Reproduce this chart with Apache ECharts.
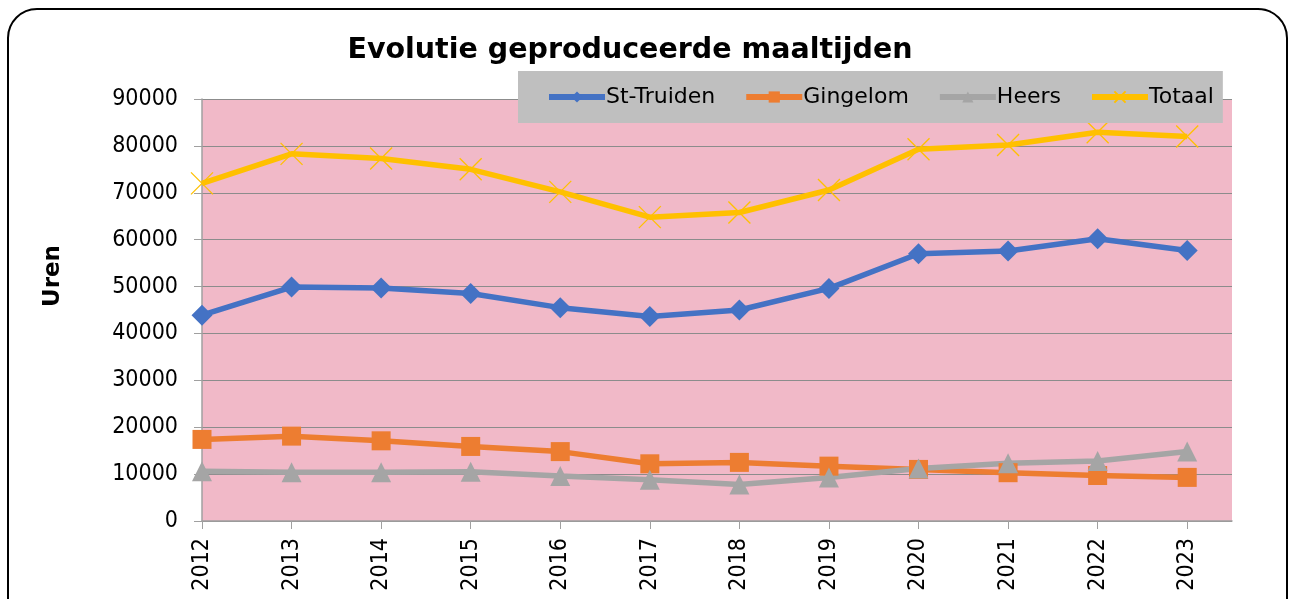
<!DOCTYPE html>
<html>
<head>
<meta charset="utf-8">
<script src="https://cdn.jsdelivr.net/npm/echarts@6/dist/echarts.min.js"></script>
<style>
  html, body { margin: 0; padding: 0; background: #fff; overflow: hidden; }
  .frame {
    position: absolute; left: 7px; top: 8px; width: 1281px; height: 630px;
    border: 2px solid #000; border-radius: 30px; box-sizing: border-box;
  }
  #chart { position: absolute; left: 0; top: 0; width: 1298px; height: 599px; }
</style>
</head>
<body>
<div class="frame"></div>
<div id="chart"></div>
<script>
// data
const years = [2012, 2013, 2014, 2015, 2016, 2017, 2018, 2019, 2020, 2021, 2022, 2023];
const stTruiden = [43900, 49900, 49700, 48500, 45500, 43600, 45000, 49600, 57000, 57600, 60200, 57700];
const gingelom = [17400, 18100, 17100, 15900, 14800, 12200, 12500, 11700, 11000, 10300, 9700, 9300];
const heers = [10600, 10400, 10400, 10500, 9600, 8800, 7800, 9300, 11200, 12300, 12800, 14800];
const totaal = [72000, 78300, 77300, 75000, 70200, 64800, 65800, 70600, 79300, 80200, 82900, 82000];

const font = '"DejaVu Sans", Verdana, sans-serif';
const condensed = '"DejaVu Sans Condensed", "DejaVu Sans", sans-serif';
const pairs = vals => vals.map((v, i) => [years[i], v]);

const chart = echarts.init(document.getElementById('chart'));

const lineSeries = (name, vals, color, symbol, size, extra) => Object.assign({
  name: name,
  type: 'line',
  data: pairs(vals),
  symbol: symbol,
  symbolSize: size,
  lineStyle: { color: color, width: 5.5 },
  itemStyle: { color: color },
  z: 3
}, extra || {});

chart.setOption({
  animation: false,
  textStyle: { fontFamily: font },
  title: {
    text: 'Evolutie geproduceerde maaltijden',
    left: 625, top: 31, textAlign: 'center',
    textStyle: { fontFamily: font, fontSize: 28.5, fontWeight: 'bold', color: '#000' }
  },
  graphic: [{
    type: 'text', x: 53, y: 276, rotation: Math.PI / 2,
    style: {
      text: 'Uren', align: 'center', verticalAlign: 'middle',
      font: 'bold 23px "DejaVu Sans", sans-serif', fill: '#000'
    }
  }],
  legend: {
    left: 518, top: 71,
    backgroundColor: '#BFBFBF',
    padding: [15, 9, 15, 28],
    itemGap: 28,
    itemWidth: 56, itemHeight: 14,
    lineStyle: { width: 6 },
    textStyle: { fontFamily: font, fontSize: 22, color: '#000', padding: [0, 0, 0, -4] },
    data: ['St-Truiden', 'Gingelom', 'Heers', 'Totaal']
  },
  grid: {
    left: 202, right: 66, top: 99, bottom: 78,
    show: true, backgroundColor: '#F1B9C8', borderWidth: 0
  },
  xAxis: {
    type: 'value',
    min: 2012, max: 2023.5, interval: 1,
    axisLine: { show: true, lineStyle: { color: '#A0A0A0', width: 1.5 } },
    axisTick: { show: true, length: 8, customValues: years, lineStyle: { color: '#A0A0A0' } },
    axisLabel: {
      customValues: years, rotate: 90, margin: 17,
      formatter: v => String(v),
      fontFamily: condensed, fontSize: 23, color: '#000'
    },
    splitLine: { show: false }
  },
  yAxis: {
    type: 'value',
    min: 0, max: 90000, interval: 10000,
    axisLine: { show: true, lineStyle: { color: '#A0A0A0', width: 1.5 } },
    axisTick: { show: true, length: 8, lineStyle: { color: '#A0A0A0' } },
    axisLabel: {
      fontFamily: condensed, fontSize: 23, color: '#000', margin: 24,
      formatter: v => String(v)
    },
    splitLine: { show: true, lineStyle: { color: '#8C8C8C', width: 1.2 } }
  },
  series: [
    lineSeries('St-Truiden', stTruiden, '#4472C4', 'diamond', 21),
    lineSeries('Gingelom', gingelom, '#ED7D31', 'rect', 19),
    lineSeries('Heers', heers, '#A5A5A5', 'triangle', 20),
    lineSeries('Totaal', totaal, '#FFC000',
      'path://M0,0L10,10M10,0L0,10', 22,
      { itemStyle: { color: 'none', borderColor: '#FFC000', borderWidth: 1.3 } })
  ]
});
</script>
</body>
</html>
